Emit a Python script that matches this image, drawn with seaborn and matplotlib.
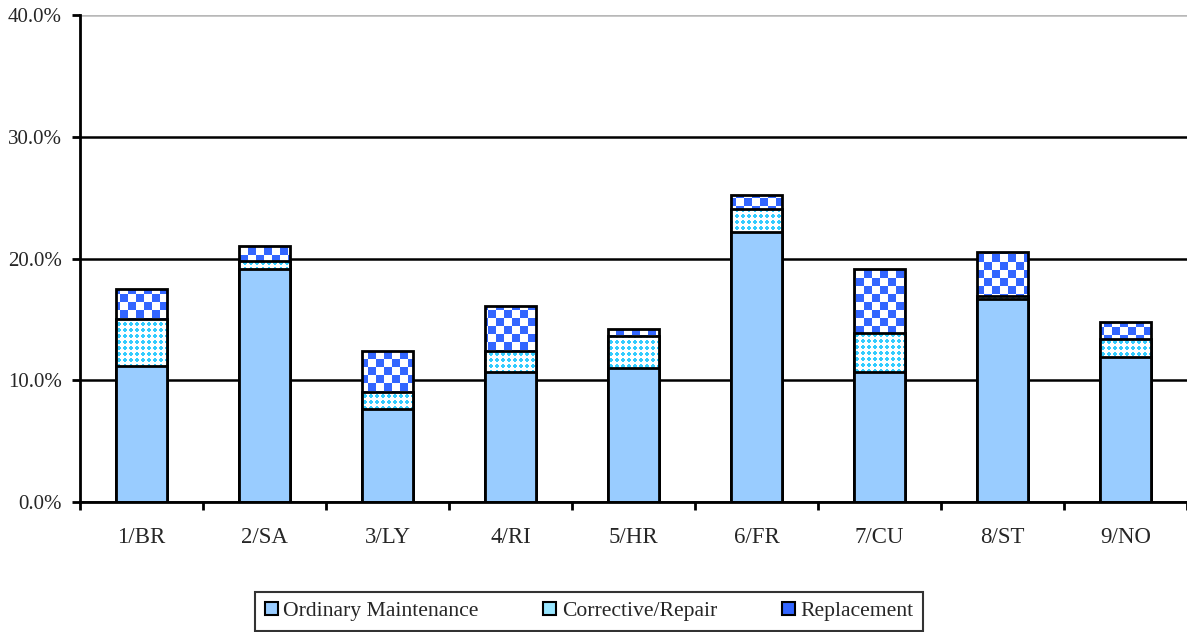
import numpy as np
import pandas as pd
import matplotlib
matplotlib.use("Agg")
import matplotlib.pyplot as plt
from matplotlib.patches import Patch
from matplotlib.ticker import FuncFormatter, FixedLocator
import seaborn as sns

# values (percent)
sites = ['1/BR', '2/SA', '3/LY', '4/RI', '5/HR', '6/FR', '7/CU', '8/ST', '9/NO']
ordinary = [11.2, 19.1, 7.6, 10.7, 11.0, 22.2, 10.7, 16.7, 11.95]
corrective = [3.8, 0.7, 1.4, 1.7, 2.6, 1.85, 3.2, 0.25, 1.4]
replacement = [2.5, 1.2, 3.4, 3.7, 0.6, 1.2, 5.25, 3.6, 1.4]
series_names = ['Ordinary Maintenance', 'Corrective/Repair', 'Replacement']

ORD_COLOR = '#99CCFF'
COR_COLOR = '#33CCFF'
REP_COLOR = '#3366FF'

df = pd.DataFrame({'site': sites, 'ordinary': ordinary,
                   'corrective': corrective, 'replacement': replacement})
df['lvl1'] = df['ordinary']
df['lvl2'] = df['ordinary'] + df['corrective']
df['lvl3'] = df['lvl2'] + df['replacement']

sns.set_style('white')
plt.rcParams['font.family'] = ['Liberation Serif', 'DejaVu Serif']

fig = plt.figure(figsize=(11.87, 6.32), dpi=100)
ax = fig.add_axes([80 / 1187, 1 - 502 / 632, 1107 / 1187, 487 / 632])

AX_W, AX_H = 1107, 487


def checker_pattern(cell=8):
    yy, xx = np.mgrid[0:AX_H, 0:AX_W]
    mask = ((yy // cell) + (xx // cell)) % 2 == 0
    img = np.ones((AX_H, AX_W, 3))
    img[mask] = matplotlib.colors.to_rgb(REP_COLOR)
    return img


def cross_pattern(period=6):
    # small cyan plus signs on white, so white crosses show between them
    yy, xx = np.mgrid[0:AX_H, 0:AX_W]
    px, py = xx % period, yy % period
    plus = (((px >= 1) & (px <= 4) & ((py == 2) | (py == 3))) |
            ((py >= 1) & (py <= 4) & ((px == 2) | (px == 3))))
    img = np.ones((AX_H, AX_W, 3))
    img[plus] = matplotlib.colors.to_rgb(COR_COLOR)
    return img


layers = [('lvl3', checker_pattern(), 2),
          ('lvl2', cross_pattern(), 4),
          ('lvl1', None, 6)]

for col, pattern, z in layers:
    sns.barplot(data=df, x='site', y=col, color=ORD_COLOR, width=0.41,
                errorbar=None, ax=ax, edgecolor='black', linewidth=2,
                saturation=1)
    cont = ax.containers[-1]
    for p in cont.patches:
        p.set_zorder(z + 0.5)
        if pattern is not None:
            p.set_facecolor('none')
            im = ax.imshow(pattern, extent=[0, 1, 0, 1], transform=ax.transAxes,
                           interpolation='nearest', aspect='auto', zorder=z)
            im.set_clip_path(p)
        else:
            p.set_facecolor(ORD_COLOR)

ax.set_xlim(-0.5, len(sites) - 0.5)
ax.set_ylim(0, 40)
ax.set_xlabel('')
ax.set_ylabel('')

ax.yaxis.set_major_locator(FixedLocator([0, 10, 20, 30, 40]))
ax.yaxis.set_major_formatter(FuncFormatter(lambda v, _: f'{v:.1f}%'))
ax.set_axisbelow(True)
ax.yaxis.grid(True, color='black', linewidth=1.8)
ax.get_ygridlines()[-1].set_color('#B8B8B8')

ax.set_xticks(np.arange(len(sites)))
ax.set_xticklabels(sites)
ax.set_xticks(np.arange(len(sites) + 1) - 0.5, minor=True)
ax.tick_params(axis='x', which='major', length=0, pad=18, labelsize=16.5)
ax.tick_params(axis='x', which='minor', length=6, width=2, direction='out',
               color='black', bottom=True)
ax.tick_params(axis='y', which='major', length=6, width=2, direction='out',
               color='black', pad=7, labelsize=15, left=True)

for side in ['top', 'right']:
    ax.spines[side].set_visible(False)
for side in ['left', 'bottom']:
    ax.spines[side].set_color('black')
    ax.spines[side].set_linewidth(2)
    ax.spines[side].set_zorder(10)

handles = [Patch(facecolor=ORD_COLOR, edgecolor='black', linewidth=1.5),
           Patch(facecolor='#99E6FF', edgecolor='black', linewidth=1.5),
           Patch(facecolor=REP_COLOR, edgecolor='black', linewidth=1.5)]
leg = fig.legend(handles, series_names, loc='lower center',
                 bbox_to_anchor=(589 / 1187, 0.0), ncol=3, frameon=True,
                 fancybox=False, edgecolor='black', fontsize=15.6,
                 handlelength=0.6, handleheight=0.6, handletextpad=0.25,
                 columnspacing=3.0, borderpad=0.45, borderaxespad=0.05)
leg.get_frame().set_linewidth(1.5)

fig.savefig('out.png', dpi=100)
